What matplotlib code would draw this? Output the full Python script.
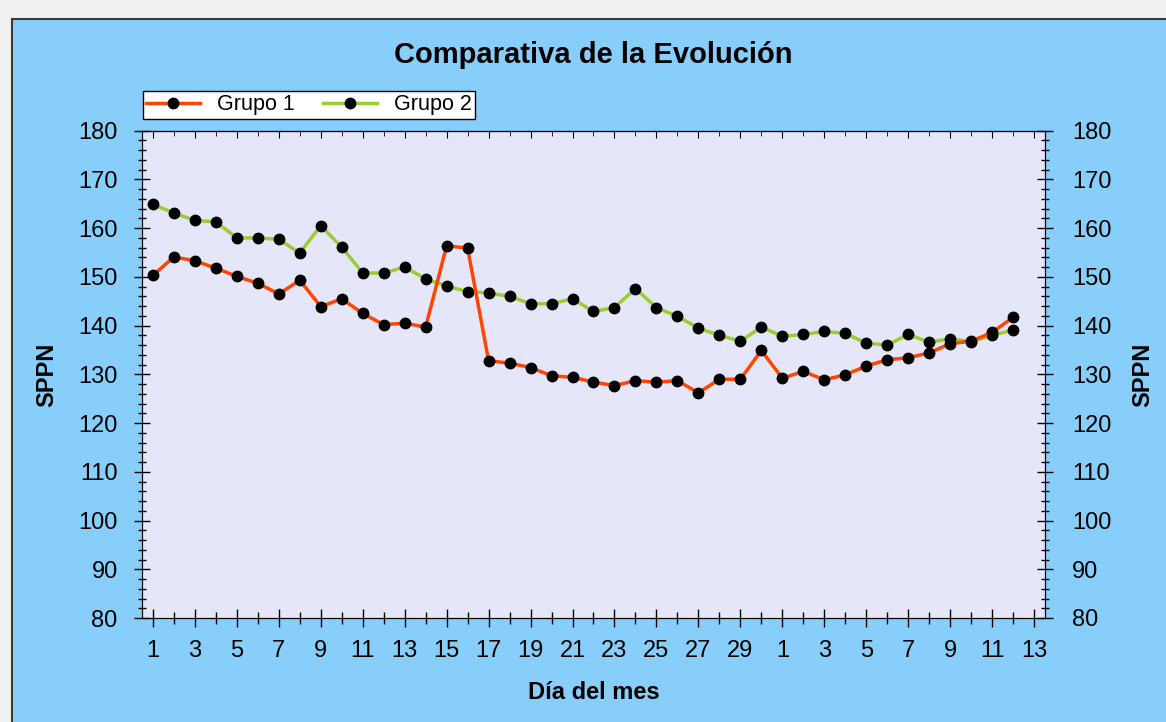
import matplotlib.pyplot as plt
from matplotlib.patches import Rectangle
from matplotlib.ticker import MultipleLocator, FixedLocator

plt.rcParams['font.family'] = ['Liberation Sans', 'DejaVu Sans']

# días del periodo (dos meses consecutivos)
dias = [1, 2, 3, 4, 5, 6, 7, 8, 9, 10, 11, 12, 13, 14, 15,
        16, 17, 18, 19, 20, 21, 22, 23, 24, 25, 26, 27, 28, 29, 30,
        1, 2, 3, 4, 5, 6, 7, 8, 9, 10, 11, 12, 13]

grupo1 = [150.3, 154.1, 153.3, 151.8, 150.1, 148.7, 146.5, 149.3, 143.9, 145.5,
          142.5, 140.2, 140.5, 139.7, 156.4, 155.9, 132.8, 132.3, 131.4, 129.7,
          129.4, 128.4, 127.7, 128.7, 128.4, 128.7, 126.2, 129.0, 129.0, 134.9,
          129.2, 130.6, 128.9, 129.9, 131.7, 133.0, 133.4, 134.4, 136.3, 136.8,
          138.6, 141.7]

grupo2 = [164.9, 163.1, 161.6, 161.3, 158.0, 158.0, 157.7, 154.9, 160.5, 156.1,
          150.8, 150.8, 152.0, 149.6, 148.1, 147.0, 146.7, 146.0, 144.5, 144.5,
          145.5, 142.9, 143.7, 147.6, 143.7, 141.9, 139.5, 138.0, 136.8, 139.7,
          137.8, 138.2, 138.8, 138.4, 136.4, 136.0, 138.2, 136.6, 137.3, 136.7,
          138.0, 139.1]

pos = list(range(1, len(dias) + 1))

fig = plt.figure(figsize=(11.66, 7.22), dpi=100, facecolor='#F0F0F0')
fig.patches.append(Rectangle((11.5 / 1166, -0.01), 1.0, 1 - 19 / 722 + 0.01,
                             transform=fig.transFigure, facecolor='#87CEFA',
                             edgecolor='#3A3A3A', linewidth=1.5, zorder=-10))

ax = fig.add_axes([142 / 1166, 1 - 618 / 722, (1045 - 142) / 1166, (618 - 130.7) / 722])
ax.set_facecolor('#E6E6FA')

ax.plot(pos[:len(grupo1)], grupo1, color='#FF4500', lw=2.5, marker='o', ms=7.5,
        mfc='black', mec='black', label='Grupo 1', zorder=3)
ax.plot(pos[:len(grupo2)], grupo2, color='#9ACD32', lw=2.5, marker='o', ms=7.5,
        mfc='black', mec='black', label='Grupo 2', zorder=2)

ax.set_xlim(0.48, len(dias) + 0.52)
ax.set_ylim(80, 180)

ax.xaxis.set_major_locator(FixedLocator(pos[::2]))
ax.set_xticklabels([str(d) for d in dias[::2]])
ax.xaxis.set_minor_locator(FixedLocator(pos[1::2]))
ax.yaxis.set_major_locator(MultipleLocator(10))
ax.yaxis.set_minor_locator(MultipleLocator(2))

ax.tick_params(axis='x', which='major', direction='inout', length=13, width=1, pad=9, labelsize=17)
ax.tick_params(axis='x', which='minor', direction='inout', length=8, width=1)
ax.tick_params(axis='y', which='major', direction='inout', length=11, width=1, pad=12, labelsize=17)
ax.tick_params(axis='y', which='minor', direction='inout', length=6, width=1)

top = ax.secondary_xaxis('top')
top.xaxis.set_major_locator(FixedLocator(pos[::2]))
top.xaxis.set_minor_locator(FixedLocator(pos[1::2]))
top.tick_params(which='major', direction='in', length=5, labeltop=False)
top.tick_params(which='minor', direction='in', length=3.5)

der = ax.twinx()
der.set_ylim(ax.get_ylim())
der.yaxis.set_major_locator(MultipleLocator(10))
der.yaxis.set_minor_locator(MultipleLocator(2))
der.tick_params(which='major', direction='inout', length=11, width=1, pad=14, labelsize=17)
der.tick_params(which='minor', direction='inout', length=6, width=1)

ax.set_ylabel('SPPN', fontsize=17, fontweight='bold', labelpad=14)
der.set_ylabel('SPPN', fontsize=17, fontweight='bold', labelpad=14)
ax.set_xlabel('Día del mes', fontsize=17, fontweight='bold', labelpad=14)

fig.text(0.5085, 1 - 55 / 722, 'Comparativa de la Evolución', ha='center', va='center',
         fontsize=21, fontweight='bold')

leg = ax.legend(loc='lower left', bbox_to_anchor=(0.001, 1.025), ncol=2, fontsize=15.5,
                frameon=True, fancybox=False, edgecolor='black', framealpha=1,
                borderpad=0.15, handlelength=2.5, columnspacing=1.3, handletextpad=0.8,
                borderaxespad=0)
leg.get_frame().set_linewidth(1)

fig.savefig('out.png', dpi=100, facecolor=fig.get_facecolor())
